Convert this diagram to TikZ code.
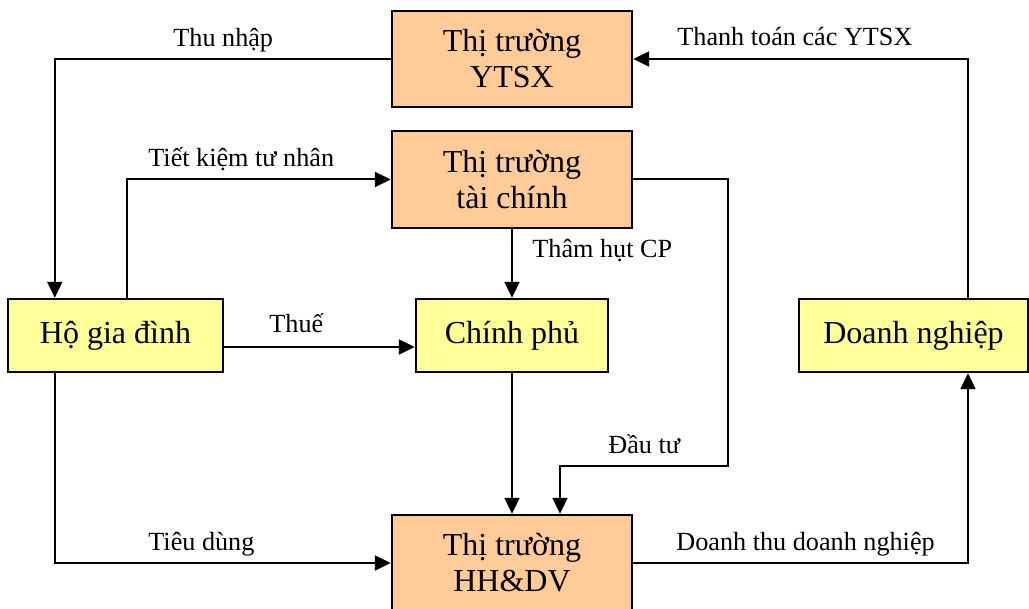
\documentclass[tikz,border=0pt]{standalone}
\usepackage{fontspec}
\setmainfont{Liberation Serif}
\usepackage{tikz}
\usetikzlibrary{calc, arrows.meta}
\tikzstyle{market} = [draw, line width=1.2pt, fill={rgb,255:red,255;green,204;blue,153}, align=center, font=\fontsize{16}{18}\selectfont, inner sep=0pt]
\tikzstyle{agent} = [draw, line width=1.2pt, fill={rgb,255:red,255;green,255;blue,153}, align=center, font=\fontsize{16}{18}\selectfont, inner sep=0pt]
\tikzstyle{flow} = [line width=1pt, -{Triangle[length=8pt,width=7.5pt]}]
\tikzstyle{lbl} = [anchor=base west, inner sep=0pt, font=\fontsize{13.1}{15}\selectfont]

\begin{document}
\begin{tikzpicture}[x=0.5pt, y=-0.5pt]
    \useasboundingbox (0,0) rectangle (1029,609);
    \node (ytsx) [market, minimum width=120pt, minimum height=48pt] at (512,59) {Thị trường\\YTSX};
    \node (taichinh) [market, minimum width=120pt, minimum height=48.5pt] at (512,179.5) {Thị trường\\tài chính};
    \node (hhdv) [market, minimum width=120pt, minimum height=48pt] at (512,563) {Thị trường\\HH\&DV};
    \node (hgd) [agent, minimum width=107.5pt, minimum height=36.5pt] at (115.5,335.5) {Hộ gia đình};
    \node (cp) [agent, minimum width=96pt, minimum height=36.5pt] at (512,335.5) {Chính phủ};
    \node (dn) [agent, minimum width=114.5pt, minimum height=36.5pt] at (913.5,335.5) {Doanh nghiệp};
    \coordinate (dtbend) at (728,466);
    \draw [flow] (ytsx.west) -| ($(hgd.north west)+(48,0)$);
    \draw [flow] ($(hgd.north west)+(120,0)$) |- (taichinh.west);
    \draw [flow] ($(hgd.east)+(0,11.5)$) -- ($(cp.west)+(0,11.5)$);
    \draw [flow] (taichinh.south) -- (cp.north);
    \draw [flow] (taichinh.east) -| (dtbend) -| ($(hhdv.north)+(48,0)$);
    \draw [flow] (cp.south) -- (hhdv.north);
    \draw [flow] ($(hgd.south west)+(48,0)$) |- (hhdv.west);
    \draw [flow] (hhdv.east) -| ($(dn.south)+(54.5,0)$);
    \draw [flow] ($(dn.north)+(54.5,0)$) |- (ytsx.east);
    \node [lbl] at (173,47) {Thu nhập};
    \node [lbl] at (148,167) {Tiết kiệm tư nhân};
    \node [lbl] at (269,333) {Thuế};
    \node [lbl] at (532,258) {Thâm hụt CP};
    \node [lbl] at (608,453) {Đầu tư};
    \node [lbl] at (148,550) {Tiêu dùng};
    \node [lbl] at (676,550) {Doanh thu doanh nghiệp};
    \node [lbl] at (677,46) {Thanh toán các YTSX};
\end{tikzpicture}
\end{document}
